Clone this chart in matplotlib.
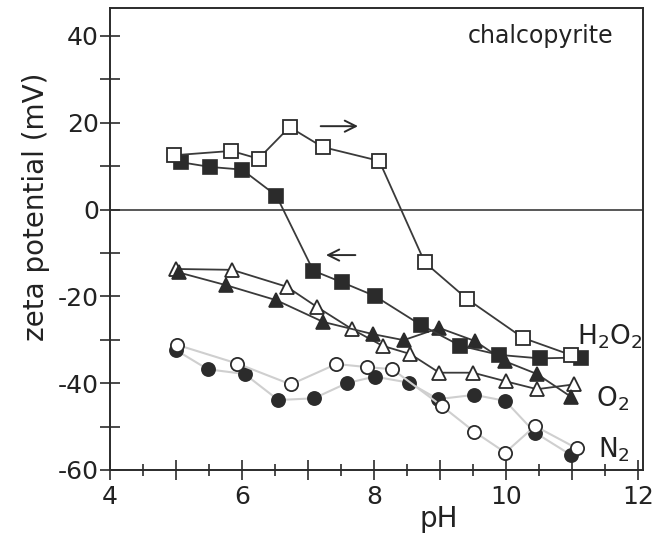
import matplotlib
matplotlib.use("Agg")
import matplotlib.pyplot as plt
from matplotlib.ticker import MultipleLocator, FuncFormatter

# --------------------------------------
# Data (pH, zeta potential in mV)
# --------------------------------------
# H2O2 : open squares = going up in pH, filled squares = coming back
h2o2_up_ph = [4.97, 5.84, 6.25, 6.72, 7.22, 8.08, 8.77, 9.41, 10.26, 10.98]
h2o2_up_zeta = [12.5, 13.5, 11.7, 19.0, 14.4, 11.2, -12.2, -20.6, -29.6, -33.5]
h2o2_down_ph = [5.07, 5.52, 6.0, 6.52, 7.08, 7.52, 8.01, 8.71, 9.31, 9.90, 10.51, 11.13]
h2o2_down_zeta = [10.9, 9.8, 9.2, 3.2, -14.1, -16.8, -19.9, -26.6, -31.4, -33.5, -34.3, -34.1]

# O2 : open / filled triangles
o2_open_ph = [5.0, 5.85, 6.68, 7.13, 7.67, 8.13, 8.55, 8.99, 9.5, 10.0, 10.47, 11.03]
o2_open_zeta = [-13.7, -13.9, -17.8, -22.4, -27.6, -31.4, -33.3, -37.6, -37.6, -39.6, -41.4, -40.3]
o2_fill_ph = [5.04, 5.75, 6.52, 7.23, 7.98, 8.45, 8.99, 9.53, 9.99, 10.47, 10.99]
o2_fill_zeta = [-14.5, -17.4, -20.9, -25.9, -28.7, -30.1, -27.3, -30.3, -35.0, -37.9, -43.2]

# N2 : open / filled circles
n2_fill_ph = [5.0, 5.48, 6.04, 6.55, 7.09, 7.59, 8.01, 8.53, 8.97, 9.52, 9.99, 10.44, 10.99]
n2_fill_zeta = [-32.4, -36.8, -37.9, -43.9, -43.5, -40.0, -38.5, -39.9, -43.7, -42.7, -44.1, -51.4, -56.6]
n2_open_ph = [5.02, 5.93, 6.74, 7.43, 7.89, 8.28, 9.03, 9.52, 9.99, 10.44, 11.07]
n2_open_zeta = [-31.2, -35.5, -40.3, -35.6, -36.3, -36.8, -45.3, -51.2, -56.0, -49.9, -55.0]

# --------------------------------------
# Figure
# --------------------------------------
dark = '#2b2b2b'
line_col = '#3a3a3a'
n2_line = '#cfcfcf'

fig = plt.figure(figsize=(6.55, 5.42), dpi=100)
ax = fig.add_axes([0.168, 0.133, 0.814, 0.852])

# N2 first (light grey lines, behind everything)
ax.plot(n2_fill_ph, n2_fill_zeta, color=n2_line, lw=1.5, zorder=2,
        marker='o', ms=9.5, mfc=dark, mec=dark, mew=1.2)
ax.plot(n2_open_ph, n2_open_zeta, color=n2_line, lw=1.5, zorder=3,
        marker='o', ms=9.5, mfc='white', mec=dark, mew=1.3)

# O2 triangles
ax.plot(o2_open_ph, o2_open_zeta, color=line_col, lw=1.3, zorder=4,
        marker='^', ms=10.5, mfc='white', mec=dark, mew=1.3)
ax.plot(o2_fill_ph, o2_fill_zeta, color=line_col, lw=1.3, zorder=5,
        marker='^', ms=10.5, mfc=dark, mec=dark, mew=1.2)

# H2O2 squares
ax.plot(h2o2_down_ph, h2o2_down_zeta, color=line_col, lw=1.3, zorder=6,
        marker='s', ms=9.5, mfc=dark, mec=dark, mew=1.2)
ax.plot(h2o2_up_ph, h2o2_up_zeta, color=line_col, lw=1.3, zorder=7,
        marker='s', ms=9.5, mfc='white', mec=dark, mew=1.3)

# zero line
ax.axhline(0, color='#4a4a4a', lw=1.3, zorder=1)

# direction arrows
ax.annotate('', xy=(7.80, 19.2), xytext=(7.15, 19.2),
            arrowprops=dict(arrowstyle='->', color=dark, lw=1.4, mutation_scale=20))
ax.annotate('', xy=(7.23, -10.5), xytext=(7.76, -10.5),
            arrowprops=dict(arrowstyle='->', color=dark, lw=1.4, mutation_scale=20))

# labels inside the plot
ax.text(11.63, 40.0, 'chalcopyrite', ha='right', va='center', fontsize=17, color='#222222')
ax.text(11.08, -29.4, 'H$_2$O$_2$', ha='left', va='center', fontsize=19, color='#222222')
ax.text(11.37, -43.5, 'O$_2$', ha='left', va='center', fontsize=19, color='#222222')
ax.text(11.40, -55.3, 'N$_2$', ha='left', va='center', fontsize=19, color='#222222')

# axes
ax.set_xlim(4, 12.08)
ax.set_ylim(-60, 46.4)

ax.xaxis.set_major_locator(MultipleLocator(1))
ax.xaxis.set_minor_locator(MultipleLocator(0.5))
ax.xaxis.set_major_formatter(FuncFormatter(lambda v, p: '%d' % v if round(v) % 2 == 0 else ''))
ax.yaxis.set_major_locator(MultipleLocator(10))
ax.yaxis.set_major_formatter(FuncFormatter(lambda v, p: '%d' % v if round(v) % 20 == 0 else ''))

ax.tick_params(axis='both', which='major', direction='inout', length=14, width=1.2,
               color=dark, labelsize=18, labelcolor='#222222')
ax.tick_params(axis='x', which='minor', direction='inout', length=9, width=1.2, color=dark)
ax.tick_params(axis='x', which='major', pad=4)
ax.tick_params(axis='y', which='major', pad=1)

for s in ax.spines.values():
    s.set_color(dark)
    s.set_linewidth(1.4)

ax.set_xlabel('pH', fontsize=20, color='#222222')
ax.set_ylabel('zeta potential (mV)', fontsize=20, color='#222222')
ax.xaxis.set_label_coords(0.616, -0.075)
ax.yaxis.set_label_coords(-0.113, 0.57)

fig.savefig('out.png', dpi=100)
